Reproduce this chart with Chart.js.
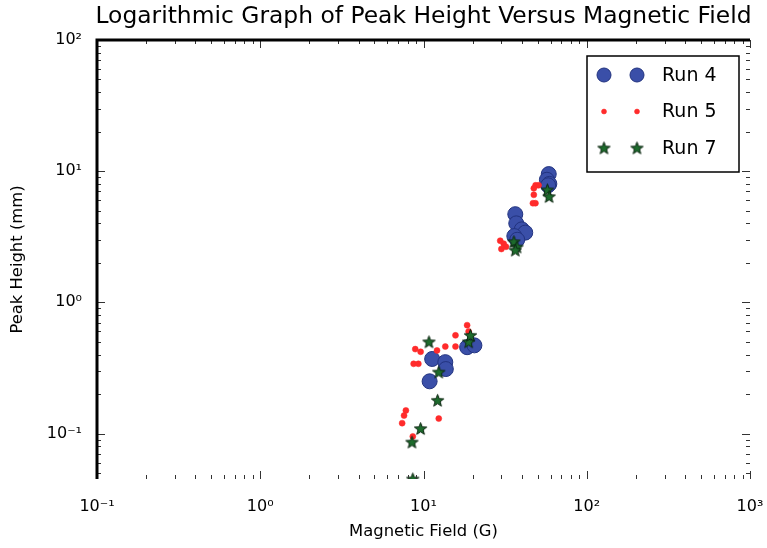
<!DOCTYPE html>
<html><head><meta charset="utf-8">
<script src="https://cdn.jsdelivr.net/npm/chart.js@4.4.0/dist/chart.umd.min.js"></script>
<style>html,body{margin:0;padding:0;background:#fff;}#wrap{width:767px;height:548px;}</style>
</head><body><div id="wrap"><canvas id="c" width="767" height="548"></canvas></div>
<script>
const titleText = 'Logarithmic Graph of Peak Height Versus Magnetic Field';
const xAxisLabel = 'Magnetic Field (G)';
const yAxisLabel = 'Peak Height (mm)';
const xTickValues = [0.1, 1, 10, 100, 1000];
const xTickLabels = ['10⁻¹', '10⁰', '10¹', '10²', '10³'];
const yTickValues = [0.1, 1, 10, 100];
const yTickLabels = ['10⁻¹', '10⁰', '10¹', '10²'];
const seriesNames = ['Run 4', 'Run 5', 'Run 7'];

const run4X = [10.9, 11.3, 13.6, 13.7, 18.5, 20.5, 36.5, 37, 40, 42, 36, 37.5, 58.5, 57, 59, 58];
const run4Y = [0.25, 0.37, 0.35, 0.31, 0.455, 0.47, 4.7, 4.0, 3.6, 3.4, 3.2, 3.0, 9.5, 8.6, 8.0, 7.8];

const run5X = [7.4, 7.6, 7.8, 8.6, 8.9, 9.6, 8.7, 9.3, 12.1, 12.4, 13.6, 15.7, 15.7, 18.5, 18.9, 29.5, 31, 30, 32, 48.5, 46.8, 47.4, 48.6, 50.7, 47.4];
const run5Y = [0.12, 0.137, 0.15, 0.095, 0.44, 0.42, 0.34, 0.34, 0.43, 0.13, 0.46, 0.56, 0.46, 0.67, 0.6, 2.95, 2.8, 2.55, 2.65, 5.7, 5.7, 6.6, 7.8, 7.8, 7.4];

const run7X = [8.6, 8.5, 9.6, 12.2, 12.4, 10.8, 18.9, 19.4, 35.8, 37.4, 36.5, 57.4, 58.8];
const run7Y = [0.045, 0.086, 0.109, 0.179, 0.294, 0.50, 0.50, 0.56, 2.9, 2.64, 2.5, 7.2, 6.4];

const xMin = 0.1, xMax = 1000, yMin = 0.045, yMax = 100;

function pts(xs, ys) { return xs.map((x, i) => ({ x: x, y: ys[i] })); }

function makeStar(size, fill, stroke) {
  const c = document.createElement('canvas');
  c.width = c.height = size;
  const g = c.getContext('2d');
  const cx = size / 2, cy = size / 2 + 0.5, R = size / 2 - 1, r = R * 0.42;
  g.beginPath();
  for (let i = 0; i < 10; i++) {
    const a = -Math.PI / 2 + i * Math.PI / 5;
    const rad = i % 2 ? r : R;
    g.lineTo(cx + rad * Math.cos(a), cy + rad * Math.sin(a));
  }
  g.closePath();
  g.fillStyle = fill; g.fill();
  g.strokeStyle = stroke; g.lineWidth = 1; g.stroke();
  return c;
}
const starImg = makeStar(15, '#1d6b2c', '#0b2410');

const FONT = 'DejaVu Sans';

const decorPlugin = {
  id: 'decor',
  afterDraw(chart) {
    const ctx = chart.ctx, a = chart.chartArea;
    const xs = chart.scales.x, ys = chart.scales.y;
    ctx.save();
    // title
    ctx.fillStyle = '#000';
    ctx.font = '23.4px "' + FONT + '"';
    ctx.textAlign = 'center'; ctx.textBaseline = 'middle';
    ctx.fillText(titleText, (a.left + a.right) / 2, 17);
    // ticks
    ctx.strokeStyle = '#333'; ctx.lineWidth = 1;
    ctx.beginPath();
    const xDec = []; for (let e = -1; e < 3; e++) xDec.push(Math.pow(10, e));
    xDec.forEach(d => {
      for (let m = 2; m <= 9; m++) {
        const px = Math.round(xs.getPixelForValue(d * m)) + 0.5;
        ctx.moveTo(px, a.bottom); ctx.lineTo(px, a.bottom - 4);
        ctx.moveTo(px, a.top); ctx.lineTo(px, a.top + 4);
      }
    });
    xTickValues.forEach(v => {
      const px = Math.round(xs.getPixelForValue(v)) + 0.5;
      ctx.moveTo(px, a.bottom); ctx.lineTo(px, a.bottom - 8);
      ctx.moveTo(px, a.top); ctx.lineTo(px, a.top + 8);
    });
    const yDec = []; for (let e = -2; e < 2; e++) yDec.push(Math.pow(10, e));
    yDec.forEach(d => {
      for (let m = 2; m <= 9; m++) {
        const v = d * m; if (v < yMin || v > yMax) continue;
        const py = Math.round(ys.getPixelForValue(v)) + 0.5;
        ctx.moveTo(a.left, py); ctx.lineTo(a.left + 4, py);
        ctx.moveTo(a.right, py); ctx.lineTo(a.right - 4, py);
      }
    });
    yTickValues.forEach(v => {
      const py = Math.round(ys.getPixelForValue(v)) + 0.5;
      ctx.moveTo(a.left, py); ctx.lineTo(a.left + 8, py);
      ctx.moveTo(a.right, py); ctx.lineTo(a.right - 8, py);
    });
    ctx.stroke();
    // spines (left and top, thick)
    ctx.strokeStyle = '#000'; ctx.lineWidth = 3;
    ctx.beginPath();
    ctx.moveTo(a.left, a.bottom); ctx.lineTo(a.left, a.top); ctx.lineTo(a.right, a.top);
    ctx.stroke();
    // legend
    const bx = a.right - 163, by = a.top + 16, bw = 152, bh = 116;
    ctx.fillStyle = '#fff';
    ctx.fillRect(bx, by, bw, bh);
    ctx.strokeStyle = '#000'; ctx.lineWidth = 1.5;
    ctx.strokeRect(bx, by, bw, bh);
    const dsets = chart.data.datasets;
    dsets.forEach((ds, i) => {
      const cy = by + 19 + i * 36.5;
      [bx + 17, bx + 50].forEach(mx => {
        ctx.fillStyle = ds.backgroundColor;
        ctx.strokeStyle = ds.borderColor;
        ctx.lineWidth = ds.borderWidth;
        Chart.helpers.drawPoint(ctx, { pointStyle: ds.pointStyle, radius: ds.legendRadius, rotation: 0, borderWidth: ds.borderWidth }, mx, cy);
      });
      ctx.fillStyle = '#000';
      ctx.font = '19px "' + FONT + '"';
      ctx.textAlign = 'left'; ctx.textBaseline = 'middle';
      ctx.fillText(ds.label, bx + 75, cy + 1);
    });
    ctx.restore();
  }
};

new Chart(document.getElementById('c'), {
  type: 'scatter',
  data: {
    datasets: [
      { label: seriesNames[0], data: pts(run4X, run4Y), pointStyle: 'circle', pointRadius: 7.5, legendRadius: 7,
        backgroundColor: '#3a4fa8', borderColor: '#22337f', borderWidth: 1, order: 3 },
      { label: seriesNames[1], data: pts(run5X, run5Y), pointStyle: 'circle', pointRadius: 3, legendRadius: 2.5,
        backgroundColor: '#ff2b2b', borderColor: '#ff2b2b', borderWidth: 0.5, order: 2 },
      { label: seriesNames[2], data: pts(run7X, run7Y), pointStyle: starImg, pointRadius: 7, legendRadius: 6,
        backgroundColor: '#1d6b2c', borderColor: '#0b2410', borderWidth: 1, order: 1 }
    ]
  },
  options: {
    responsive: false, animation: false, devicePixelRatio: 1,
    layout: { padding: { top: 40, right: 17, left: 0, bottom: 0 } },
    plugins: { legend: { display: false }, title: { display: false }, tooltip: { enabled: false } },
    elements: { point: { hoverRadius: 7 } },
    scales: {
      x: {
        type: 'logarithmic', position: 'bottom', min: xMin, max: xMax,
        grid: { display: false }, border: { display: false },
        afterBuildTicks: s => { s.ticks = xTickValues.map(v => ({ value: v })); },
        afterFit: s => { s.height = 69; s.paddingLeft = 0; s.paddingRight = 0; },
        ticks: { autoSkip: false, maxRotation: 0, padding: 10, color: '#000', font: { family: FONT, size: 16 },
          callback: (v) => { const i = xTickValues.indexOf(v); return i >= 0 ? xTickLabels[i] : ''; } },
        title: { display: true, text: xAxisLabel, color: '#000', font: { family: FONT, size: 16.4 }, padding: { top: 0, bottom: 6 } }
      },
      y: {
        type: 'logarithmic', position: 'left', min: yMin, max: yMax,
        grid: { display: false }, border: { display: false },
        afterBuildTicks: s => { s.ticks = yTickValues.map(v => ({ value: v })); },
        afterFit: s => { s.width = 97; s.paddingTop = 0; s.paddingBottom = 0; },
        ticks: { autoSkip: false, padding: 7, color: '#000', font: { family: FONT, size: 16 },
          callback: (v) => { const i = yTickValues.indexOf(v); return i >= 0 ? yTickLabels[i] : ''; } },
        title: { display: true, text: yAxisLabel, color: '#000', font: { family: FONT, size: 16.4 }, padding: { top: 8, bottom: 0 } }
      }
    }
  },
  plugins: [decorPlugin]
});
</script></body></html>
